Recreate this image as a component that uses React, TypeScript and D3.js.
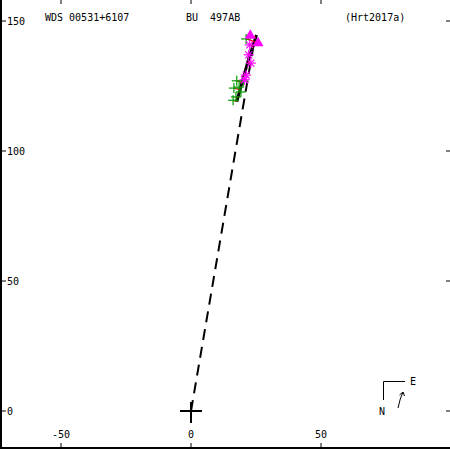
import React from "react";
import * as d3 from "d3";

// header texts
const titleLeft = "WDS 00531+6107";
const titleMid = "BU  497AB";
const titleRight = "(Hrt2017a)";

// axis ticks
const xTicks = [-50, 0, 50];
const yTicks = [0, 50, 100, 150];

// orbit arc (arcsec-ish units as on the plot)
const orbitX = [17.6, 19.8, 22.2, 25.2];
const orbitY = [119.0, 127.0, 135.5, 144.6];

// line of nodes, from the primary
const nodeX = [0, 24.6];
const nodeY = [0, 143.8];

// observations
const plusX = [21.2, 16.5, 18.5, 17.3, 19.2, 20.1, 17.6, 16.2];
const plusY = [143.1, 124.2, 124.6, 120.8, 122.7, 126.9, 127.0, 119.5];
const starX = [22.6, 23.0, 21.2, 20.6, 22.2];
const starY = [140.8, 133.8, 129.2, 127.4, 137.0];
const triX = [22.8, 25.8];
const triY = [144.4, 141.5];

const font = "DejaVu Sans Mono, monospace";

const App = () => {
  const width = 450;
  const height = 450;

  const x = d3.scaleLinear().domain([-50, 50]).range([61, 321]);
  const y = d3.scaleLinear().domain([0, 150]).range([411, 21]);

  const line = d3.line<[number, number]>()
    .x((d) => x(d[0]))
    .y((d) => y(d[1]));

  const orbit: [number, number][] = orbitX.map((v, i) => [v, orbitY[i]]);
  const nodes: [number, number][] = nodeX.map((v, i) => [v, nodeY[i]]);

  // nearest point on the orbit polyline (for residual lines)
  const project = (px: number, py: number): [number, number] => {
    let best: [number, number] = orbit[0];
    let bd = Infinity;
    for (let i = 0; i < orbit.length - 1; i++) {
      const [ax, ay] = orbit[i];
      const [bx, by] = orbit[i + 1];
      const dx = bx - ax, dy = by - ay;
      let t = ((px - ax) * dx + (py - ay) * dy) / (dx * dx + dy * dy);
      t = Math.max(0, Math.min(1, t));
      const qx = ax + t * dx, qy = ay + t * dy;
      const dd = (qx - px) ** 2 + (qy - py) ** 2;
      if (dd < bd) { bd = dd; best = [qx, qy]; }
    }
    return best;
  };

  const obs = [
    ...plusX.map((v, i) => [v, plusY[i]]),
    ...starX.map((v, i) => [v, starY[i]]),
    ...triX.map((v, i) => [v, triY[i]]),
  ];

  const triPath = d3.symbol().type(d3.symbolTriangle).size(52)();

  return (
    <svg width={width} height={height} style={{ position: "absolute", left: 0, top: 0, background: "#fff" }}>
      {/* frame */}
      <line x1={1} y1={0} x2={1} y2={449} stroke="#000" strokeWidth={2} />
      <line x1={0} y1={448} x2={450} y2={448} stroke="#000" strokeWidth={2} />

      {xTicks.map((t) => (
        <g key={"x" + t}>
          <line x1={x(t)} y1={0} x2={x(t)} y2={4} stroke="#000" />
          <line x1={x(t)} y1={443} x2={x(t)} y2={448} stroke="#000" />
          <text x={x(t)} y={438} textAnchor="middle" fontFamily={font} fontSize={10}>{t}</text>
        </g>
      ))}
      {yTicks.map((t) => (
        <g key={"y" + t}>
          <line x1={1} y1={y(t)} x2={6} y2={y(t)} stroke="#000" />
          <line x1={446} y1={y(t)} x2={450} y2={y(t)} stroke="#000" />
          <text x={7} y={y(t) + 4} fontFamily={font} fontSize={10}>{t}</text>
        </g>
      ))}

      <text x={45} y={21} fontFamily={font} fontSize={10} style={{ whiteSpace: "pre" }}>{titleLeft}</text>
      <text x={186} y={21} fontFamily={font} fontSize={10} style={{ whiteSpace: "pre" }} xmlSpace="preserve">{titleMid}</text>
      <text x={345} y={21} fontFamily={font} fontSize={10}>{titleRight}</text>

      {/* line of nodes */}
      <path d={line(nodes) || ""} fill="none" stroke="#000" strokeWidth={2} strokeDasharray="11,7" />
      {/* orbit */}
      <path d={line(orbit) || ""} fill="none" stroke="#000" strokeWidth={3} />

      {/* residuals */}
      {obs.map(([ox, oy], i) => {
        const [qx, qy] = project(ox, oy);
        return <line key={"r" + i} x1={x(ox)} y1={y(oy)} x2={x(qx)} y2={y(qy)} stroke="#ff0000" strokeWidth={1.2} />;
      })}

      {plusX.map((v, i) => (
        <g key={"p" + i} stroke="#009900" strokeWidth={1.2}>
          <line x1={x(v) - 5} y1={y(plusY[i])} x2={x(v) + 5} y2={y(plusY[i])} />
          <line x1={x(v)} y1={y(plusY[i]) - 5} x2={x(v)} y2={y(plusY[i]) + 5} />
        </g>
      ))}
      {starX.map((v, i) => (
        <g key={"s" + i} stroke="#ff00ff" strokeWidth={1.2} transform={`translate(${x(v)},${y(starY[i])})`}>
          <line x1={-5} y1={0} x2={5} y2={0} />
          <line x1={0} y1={-5} x2={0} y2={5} />
          <line x1={-3.5} y1={-3.5} x2={3.5} y2={3.5} />
          <line x1={-3.5} y1={3.5} x2={3.5} y2={-3.5} />
        </g>
      ))}
      {triX.map((v, i) => (
        <path key={"t" + i} d={triPath || ""} fill="#ff00ff" transform={`translate(${x(v)},${y(triY[i])})`} />
      ))}

      {/* primary */}
      <line x1={x(0) - 11} y1={y(0)} x2={x(0) + 11} y2={y(0)} stroke="#000" strokeWidth={2} />
      <line x1={x(0)} y1={y(0) - 9} x2={x(0)} y2={y(0) + 12} stroke="#000" strokeWidth={2} />

      {/* compass */}
      <polyline points="383.5,400 383.5,381.5 405,381.5" fill="none" stroke="#000" />
      <text x={410} y={385} fontFamily={font} fontSize={10}>E</text>
      <text x={379} y={415} fontFamily={font} fontSize={10}>N</text>
      <path d="M398,408 Q400,398 403,392" fill="none" stroke="#000" />
      <path d="M399.5,395 L403,392 L404.5,396" fill="none" stroke="#000" />
    </svg>
  );
};

export default App;
